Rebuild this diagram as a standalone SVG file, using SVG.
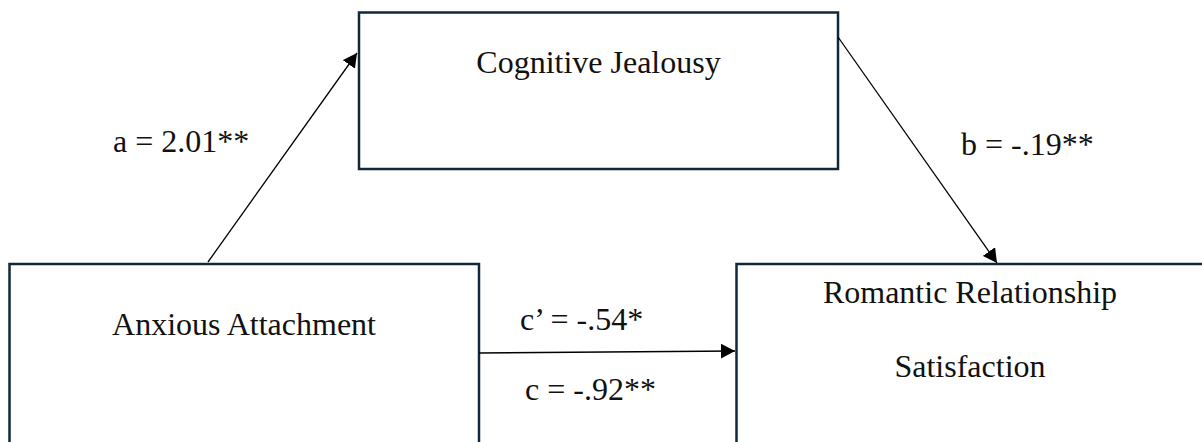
<svg xmlns="http://www.w3.org/2000/svg" width="1202" height="442" viewBox="0 0 1202 442">
<style>
.box{fill:#ffffff;stroke:#10293a;stroke-width:2.5}
.lbl{font-family:"Liberation Serif","Times New Roman",serif;font-size:32px;fill:#111111}
.conn{stroke:#000000;stroke-width:1.3;fill:none;marker-end:url(#ah)}
</style>
<defs>
<marker id="ah" markerUnits="userSpaceOnUse" markerWidth="15" markerHeight="15" refX="14" refY="7.5" orient="auto">
<path d="M0,0 L14,7.5 L0,15 Z" fill="#000000"/>
</marker>
</defs>
<rect width="1202" height="442" fill="#ffffff"/>
<g id="node-cognitive-jealousy">
<rect class="box" x="359" y="12.5" width="479" height="156.5"/>
<text class="lbl" x="598.5" y="73" text-anchor="middle">Cognitive Jealousy</text>
</g>
<g id="node-anxious-attachment">
<rect class="box" x="9.5" y="264" width="469.5" height="200"/>
<text class="lbl" x="244" y="335" text-anchor="middle">Anxious Attachment</text>
</g>
<g id="node-satisfaction">
<rect class="box" x="736.5" y="264" width="468" height="200"/>
<text class="lbl" x="970" y="303" text-anchor="middle">Romantic Relationship</text>
<text class="lbl" x="970" y="377" text-anchor="middle">Satisfaction</text>
</g>
<g id="connectors">
<line class="conn" x1="208" y1="262" x2="357" y2="53"/>
<line class="conn" x1="838" y1="37" x2="997" y2="263"/>
<line class="conn" x1="479" y1="353" x2="735" y2="351"/>
</g>
<g id="labels">
<text class="lbl" x="113" y="152">a = 2.01**</text>
<text class="lbl" x="961" y="155">b = -.19**</text>
<text class="lbl" x="520" y="330">c’ = -.54*</text>
<text class="lbl" x="525" y="400">c = -.92**</text>
</g>
</svg>
